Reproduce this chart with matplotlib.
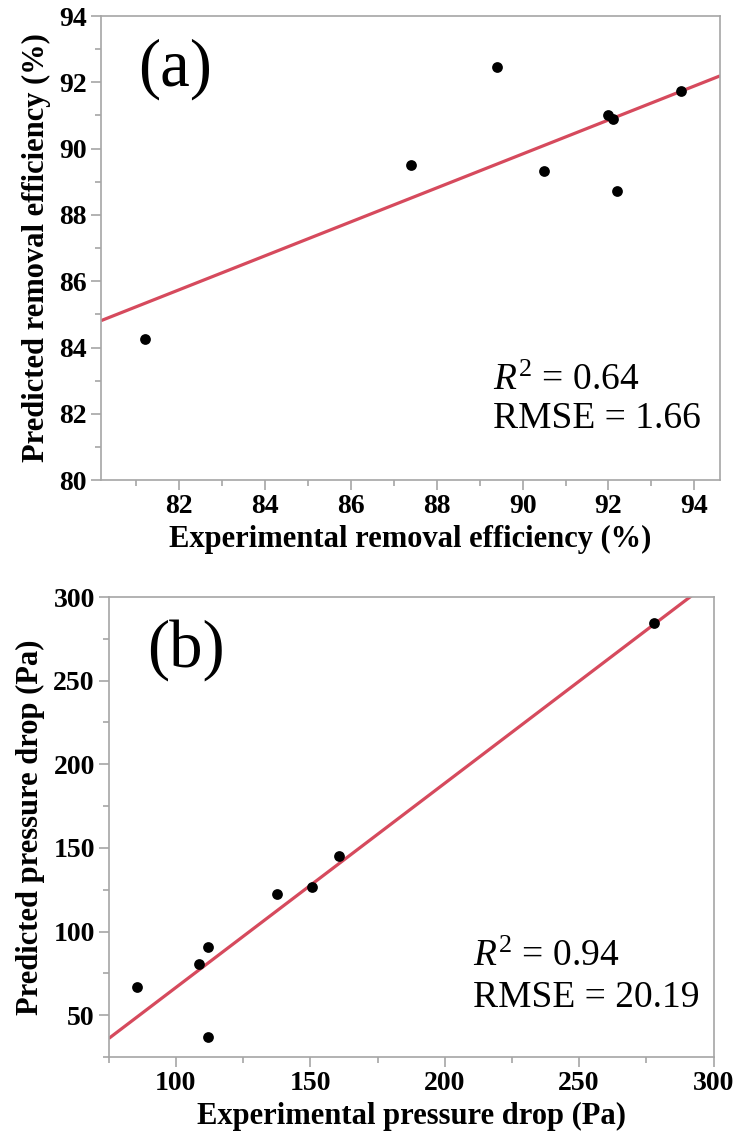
import numpy as np
import matplotlib
matplotlib.use("Agg")
import matplotlib.pyplot as plt
from matplotlib.ticker import MultipleLocator

plt.rcParams["font.family"] = ["Liberation Serif", "DejaVu Serif"]
plt.rcParams["mathtext.fontset"] = "custom"
plt.rcParams["mathtext.rm"] = "Liberation Serif"
plt.rcParams["mathtext.it"] = "Liberation Serif:italic"

# (a) removal efficiency (%)
eff_exp = [81.2, 87.4, 89.4, 90.5, 92.0, 92.1, 92.2, 93.7]
eff_pred = [84.27, 89.5, 92.47, 89.32, 91.0, 90.9, 88.73, 91.75]
eff_stats = ["0.64", "1.66"]

# (b) pressure drop (Pa)
dp_exp = [85.6, 108.7, 111.8, 111.8, 137.7, 150.7, 160.8, 277.9]
dp_pred = [66.6, 80.5, 91.0, 37.2, 122.7, 126.6, 144.9, 284.2]
dp_stats = ["0.94", "20.19"]

SPINE = "#a6a6a6"
LINE = "#d64a5d"

fig = plt.figure(figsize=(7.34, 11.35), dpi=100)
ax_a = fig.add_axes([0.1376, 0.577, 0.8434, 0.4089])
ax_b = fig.add_axes([0.1481, 0.0687, 0.8240, 0.4053])


def panel(ax, x, y, xlim, ylim, xmaj, xmin, ymaj, ymin, xlabel, ylabel, tag,
          stats, tag_pos, stat_x, stat_y, yticks=None):
    x = np.asarray(x)
    y = np.asarray(y)
    slope, intercept = np.polyfit(x, y, 1)
    xs = np.array(xlim)
    ax.plot(xs, slope * xs + intercept, color=LINE, lw=2.3, zorder=2,
            solid_capstyle="butt")
    ax.scatter(x, y, s=60, color="black", zorder=3, linewidths=0)
    ax.set_xlim(*xlim)
    ax.set_ylim(*ylim)
    ax.xaxis.set_major_locator(MultipleLocator(xmaj))
    ax.xaxis.set_minor_locator(MultipleLocator(xmin))
    ax.yaxis.set_major_locator(MultipleLocator(ymaj))
    ax.yaxis.set_minor_locator(MultipleLocator(ymin))
    if yticks is not None:
        ax.set_yticks(yticks)
    for s in ax.spines.values():
        s.set_color(SPINE)
        s.set_linewidth(1.2)
    ax.tick_params(which="major", direction="out", length=7, width=1.2,
                   color=SPINE, labelsize=20, pad=3)
    ax.tick_params(which="minor", direction="out", length=4, width=1.2,
                   color=SPINE)
    for lab in ax.get_xticklabels() + ax.get_yticklabels():
        lab.set_fontweight("bold")
    ax.set_xlabel(xlabel, fontsize=22, fontweight="bold", labelpad=4)
    ax.set_ylabel(ylabel, fontsize=22, fontweight="bold", labelpad=6)
    ax.text(tag_pos[0], tag_pos[1], tag, transform=ax.transAxes,
            fontsize=48, ha="center", va="center")
    ax.text(stat_x, stat_y[0], r"$R^{\mathrm{2}}$ = " + stats[0],
            transform=ax.transAxes, fontsize=27, ha="left", va="center")
    ax.text(stat_x, stat_y[1], "RMSE = " + stats[1],
            transform=ax.transAxes, fontsize=27, ha="left", va="center")


panel(ax_a, eff_exp, eff_pred, (80.18, 94.6), (80, 94), 2, 1, 2, 1,
      "Experimental removal efficiency (%)", "Predicted removal efficiency (%)",
      "(a)", eff_stats, (0.12, 0.885), 0.634, (0.215, 0.133))

panel(ax_b, dp_exp, dp_pred, (75, 300), (25, 300), 50, 25, 50, 25,
      "Experimental pressure drop (Pa)", "Predicted pressure drop (Pa)",
      "(b)", dp_stats, (0.127, 0.885), 0.603, (0.218, 0.128),
      yticks=[50, 100, 150, 200, 250, 300])

fig.savefig("out.png", dpi=100)
